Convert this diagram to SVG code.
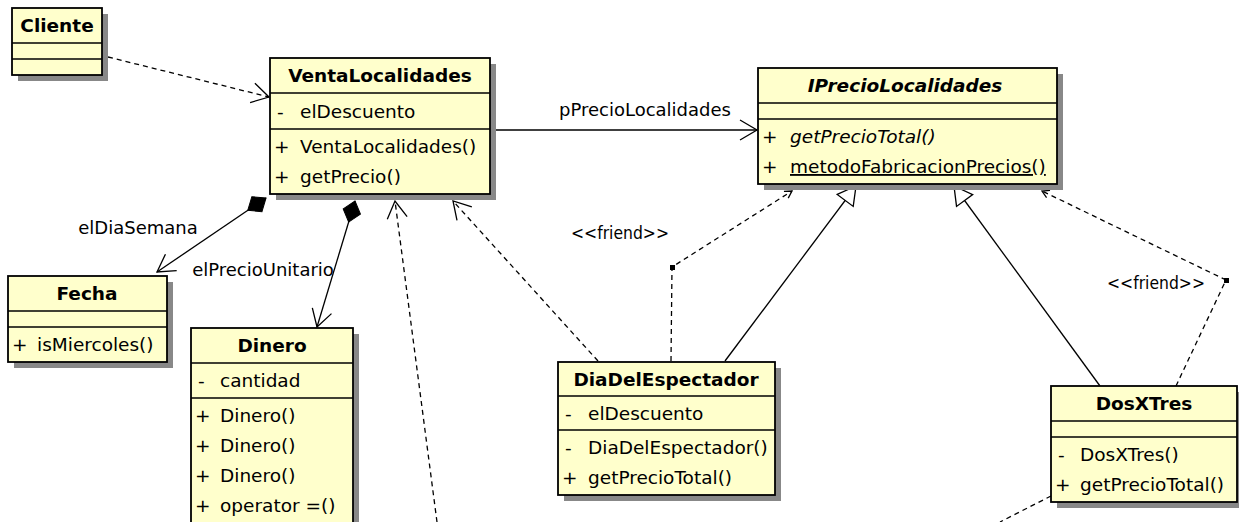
<svg xmlns="http://www.w3.org/2000/svg" width="1239" height="522" viewBox="0 0 1239 522">
<style>
.box{fill:#ffffcc;stroke:#000;stroke-width:1.8}
.sh{fill:#888}
.sep{stroke:#000;stroke-width:1.6}
text{font-family:"DejaVu Sans","Liberation Sans",sans-serif;font-size:18.5px;fill:#000}
.t{font-weight:bold;text-anchor:middle}
.lbl{font-size:18px}
.c{fill:none;stroke:#000;stroke-width:1.3}
.d{stroke-dasharray:5,4}
</style>
<defs>
<marker id="open" markerUnits="userSpaceOnUse" markerWidth="20" markerHeight="22" refX="17" refY="10" orient="auto" overflow="visible">
<path d="M0,0 L17,10 L0,20" fill="none" stroke="#000" stroke-width="1.3"/>
</marker>
<marker id="tri" markerUnits="userSpaceOnUse" markerWidth="22" markerHeight="22" refX="18" refY="10" orient="auto" overflow="visible">
<path d="M0,0 L18,10 L0,20 Z" fill="#fff" stroke="#000" stroke-width="1.3"/>
</marker>
<marker id="dia" markerUnits="userSpaceOnUse" markerWidth="24" markerHeight="20" refX="0" refY="9" orient="auto" overflow="visible">
<path d="M0,9 L11,0 L22,9 L11,18 Z" fill="#000" stroke="#000" stroke-width="1"/>
</marker>
<marker id="tiny" markerUnits="userSpaceOnUse" markerWidth="10" markerHeight="10" refX="7" refY="4" orient="auto" overflow="visible">
<path d="M0,0 L7,4 L0,8" fill="none" stroke="#000" stroke-width="1.3"/>
</marker>
</defs>

<g id="connectors">
<line class="c d" x1="108" y1="57" x2="269" y2="97" marker-end="url(#open)"/>
<line class="c" x1="490" y1="130" x2="757" y2="130" marker-end="url(#open)"/>
<text class="lbl" x="645" y="116" text-anchor="middle">pPrecioLocalidades</text>
<line class="c" x1="266" y1="198" x2="157" y2="272" marker-start="url(#dia)" marker-end="url(#open)"/>
<text class="lbl" x="138" y="234" text-anchor="middle">elDiaSemana</text>
<line class="c" x1="355" y1="201" x2="317" y2="327" marker-start="url(#dia)" marker-end="url(#open)"/>
<text class="lbl" x="263" y="276" text-anchor="middle">elPrecioUnitario</text>
<line class="c d" x1="437" y1="522" x2="395" y2="201" marker-end="url(#open)"/>
<line class="c d" x1="598" y1="361" x2="453" y2="201" marker-end="url(#open)"/>
<line class="c" x1="725" y1="361" x2="856" y2="186" marker-end="url(#tri)"/>
<polyline class="c d" points="671,361 672,267 792,191" marker-end="url(#tiny)"/>
<rect x="670" y="265" width="5" height="5" fill="#000"/>
<text class="lbl" x="620" y="239" text-anchor="middle" textLength="98" lengthAdjust="spacingAndGlyphs">&lt;&lt;friend&gt;&gt;</text>
<line class="c" x1="1100" y1="386" x2="954" y2="186" marker-end="url(#tri)"/>
<polyline class="c d" points="1176,386 1226,280 1042,191" marker-end="url(#tiny)"/>
<rect x="1224" y="278" width="5" height="5" fill="#000"/>
<text class="lbl" x="1156" y="289" text-anchor="middle" textLength="98" lengthAdjust="spacingAndGlyphs">&lt;&lt;friend&gt;&gt;</text>
<line class="c d" x1="1051" y1="496" x2="1000" y2="522"/>
</g>

<g id="Cliente">
<rect class="sh" x="18" y="14" width="90" height="67"/>
<rect class="box" x="12" y="8" width="90" height="67"/>
<line class="sep" x1="12" y1="43" x2="102" y2="43"/>
<line class="sep" x1="12" y1="59" x2="102" y2="59"/>
<text class="t" x="57" y="32">Cliente</text>
</g>

<g id="VentaLocalidades">
<rect class="sh" x="276" y="64" width="220" height="136"/>
<rect class="box" x="270" y="58" width="220" height="136"/>
<line class="sep" x1="270" y1="93" x2="490" y2="93"/>
<line class="sep" x1="270" y1="129" x2="490" y2="129"/>
<text class="t" x="380" y="82">VentaLocalidades</text>
<text x="277" y="118">-</text><text x="300" y="118">elDescuento</text>
<text x="274" y="153">+</text><text x="300" y="153">VentaLocalidades()</text>
<text x="274" y="183">+</text><text x="300" y="183">getPrecio()</text>
</g>

<g id="IPrecioLocalidades">
<rect class="sh" x="764" y="74" width="299" height="116"/>
<rect class="box" x="758" y="68" width="299" height="116"/>
<line class="sep" x1="758" y1="103" x2="1057" y2="103"/>
<line class="sep" x1="758" y1="119" x2="1057" y2="119"/>
<text class="t" x="905" y="92" font-style="italic">IPrecioLocalidades</text>
<text x="762" y="143">+</text><text x="790" y="143" font-style="italic">getPrecioTotal()</text>
<text x="762" y="173">+</text><text x="790" y="173" text-decoration="underline">metodoFabricacionPrecios()</text>
</g>

<g id="Fecha">
<rect class="sh" x="14" y="282" width="159" height="86"/>
<rect class="box" x="8" y="276" width="159" height="86"/>
<line class="sep" x1="8" y1="311" x2="167" y2="311"/>
<line class="sep" x1="8" y1="327" x2="167" y2="327"/>
<text class="t" x="87" y="300">Fecha</text>
<text x="12" y="351">+</text><text x="37" y="351">isMiercoles()</text>
</g>

<g id="Dinero">
<rect class="sh" x="197" y="334" width="162" height="200"/>
<rect class="box" x="191" y="328" width="162" height="200"/>
<line class="sep" x1="191" y1="363" x2="353" y2="363"/>
<line class="sep" x1="191" y1="398" x2="353" y2="398"/>
<text class="t" x="272" y="352">Dinero</text>
<text x="198" y="387">-</text><text x="220" y="387">cantidad</text>
<text x="195" y="422">+</text><text x="220" y="422">Dinero()</text>
<text x="195" y="452">+</text><text x="220" y="452">Dinero()</text>
<text x="195" y="482">+</text><text x="220" y="482">Dinero()</text>
<text x="195" y="512">+</text><text x="220" y="512">operator =()</text>
</g>

<g id="DiaDelEspectador">
<rect class="sh" x="564" y="368" width="217" height="133"/>
<rect class="box" x="558" y="362" width="217" height="133"/>
<line class="sep" x1="558" y1="396" x2="775" y2="396"/>
<line class="sep" x1="558" y1="430" x2="775" y2="430"/>
<text class="t" x="666" y="386">DiaDelEspectador</text>
<text x="565" y="420">-</text><text x="588" y="420">elDescuento</text>
<text x="565" y="454">-</text><text x="588" y="454">DiaDelEspectador()</text>
<text x="562" y="484">+</text><text x="588" y="484">getPrecioTotal()</text>
</g>

<g id="DosXTres">
<rect class="sh" x="1057" y="392" width="186" height="116"/>
<rect class="box" x="1051" y="386" width="186" height="116"/>
<line class="sep" x1="1051" y1="421" x2="1237" y2="421"/>
<line class="sep" x1="1051" y1="437" x2="1237" y2="437"/>
<text class="t" x="1144" y="410">DosXTres</text>
<text x="1058" y="461">-</text><text x="1080" y="461">DosXTres()</text>
<text x="1055" y="491">+</text><text x="1080" y="491">getPrecioTotal()</text>
</g>
</svg>
